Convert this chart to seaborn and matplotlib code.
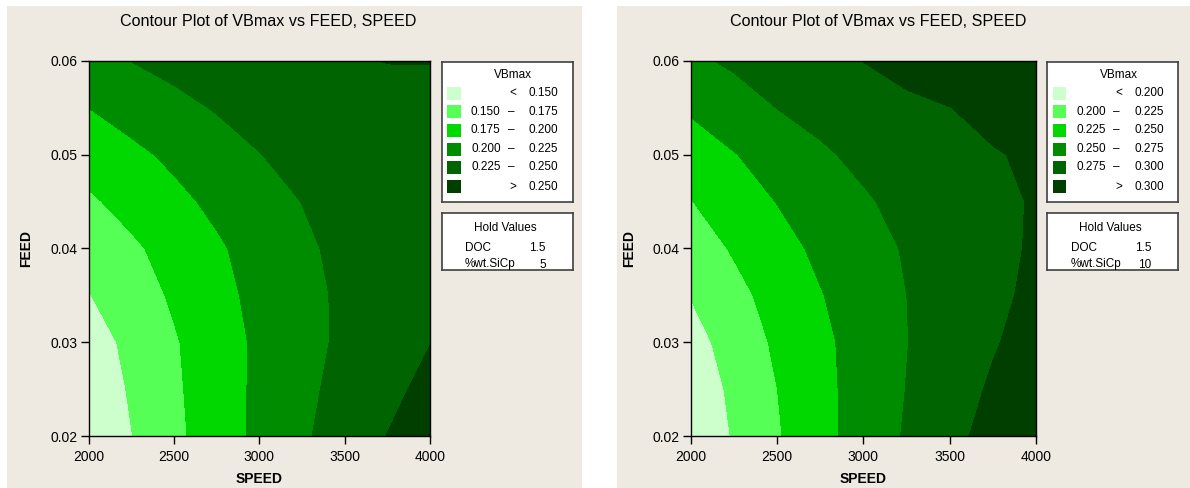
import numpy as np
import pandas as pd
import matplotlib
matplotlib.use("Agg")
import matplotlib.pyplot as plt
import seaborn as sns
from matplotlib.patches import Rectangle

# grid
speed = [2000, 2250, 2500, 2750, 3000, 3250, 3500, 3750, 4000]
feed = [0.020, 0.025, 0.030, 0.035, 0.040, 0.045, 0.050, 0.055, 0.060]

# VBmax, one row per FEED value (bottom to top), %wt.SiCp = 5
vb_sicp5 = [
    [0.1280, 0.1493, 0.1693, 0.1878, 0.2052, 0.2215, 0.2362, 0.2504, 0.2620],
    [0.1320, 0.1526, 0.1710, 0.1884, 0.2047, 0.2194, 0.2323, 0.2441, 0.2563],
    [0.1370, 0.1567, 0.1727, 0.1889, 0.2042, 0.2174, 0.2293, 0.2397, 0.2495],
    [0.1490, 0.1635, 0.1781, 0.1929, 0.2062, 0.2181, 0.2290, 0.2386, 0.2470],
    [0.1600, 0.1710, 0.1835, 0.1968, 0.2090, 0.2208, 0.2307, 0.2390, 0.2450],
    [0.1715, 0.1829, 0.1942, 0.2050, 0.2155, 0.2253, 0.2334, 0.2400, 0.2440],
    [0.1855, 0.1948, 0.2045, 0.2145, 0.2245, 0.2310, 0.2365, 0.2405, 0.2435],
    [0.2000, 0.2092, 0.2184, 0.2266, 0.2320, 0.2365, 0.2400, 0.2425, 0.2445],
    [0.2130, 0.2252, 0.2320, 0.2370, 0.2410, 0.2440, 0.2475, 0.2505, 0.2505],
]

# VBmax, %wt.SiCp = 10
vb_sicp10 = [
    [0.1798, 0.2020, 0.2228, 0.2422, 0.2603, 0.2773, 0.2931, 0.3082, 0.3217],
    [0.1838, 0.2050, 0.2249, 0.2431, 0.2598, 0.2754, 0.2893, 0.3029, 0.3148],
    [0.1905, 0.2105, 0.2288, 0.2446, 0.2596, 0.2744, 0.2862, 0.2980, 0.3092],
    [0.2010, 0.2180, 0.2339, 0.2488, 0.2620, 0.2749, 0.2850, 0.2950, 0.3048],
    [0.2126, 0.2274, 0.2416, 0.2547, 0.2661, 0.2769, 0.2855, 0.2941, 0.3026],
    [0.2243, 0.2377, 0.2506, 0.2616, 0.2727, 0.2806, 0.2877, 0.2948, 0.3018],
    [0.2387, 0.2490, 0.2605, 0.2721, 0.2796, 0.2858, 0.2919, 0.2980, 0.3043],
    [0.2529, 0.2642, 0.2753, 0.2813, 0.2874, 0.2934, 0.2995, 0.3081, 0.3150],
    [0.2705, 0.2787, 0.2858, 0.2929, 0.3003, 0.3104, 0.3200, 0.3280, 0.3350],
]

levels_sicp5 = [0.150, 0.175, 0.200, 0.225, 0.250]
levels_sicp10 = [0.200, 0.225, 0.250, 0.275, 0.300]
hold_doc = 1.5
hold_sicp = [5, 10]
greens = ["#ccffcc", "#55ff55", "#00d800", "#008c00", "#006400", "#003f00"]

W, H = 1190, 488
BEIGE = "#eeeae1"

sns.set_theme(style="ticks")
plt.rcParams["font.family"] = ["Liberation Sans", "DejaVu Sans"]
plt.rcParams["text.color"] = "black"
plt.rcParams["axes.labelcolor"] = "black"

fig = plt.figure(figsize=(W / 100, H / 100), dpi=100)
fig.patch.set_facecolor("white")


def fbox(x0, y0, x1, y1):
    # pixel box (top-left origin) -> figure fraction rect
    return [x0 / W, 1 - y1 / H, (x1 - x0) / W, (y1 - y0) / H]


def draw_panel(off, ax_x0, ax_x1, vb, levels, sicp):
    fig.add_artist(Rectangle((off / W, 0), 575 / W, 482 / H, transform=fig.transFigure,
                             facecolor=BEIGE, edgecolor="none", zorder=-5))
    ax = fig.add_axes(fbox(ax_x0, 61, ax_x1, 436))
    df = pd.DataFrame(vb, index=feed, columns=speed)
    bounds = [-1.0] + levels + [1.0]
    ax.contourf(df.columns.values, df.index.values, df.values, levels=bounds, colors=greens)
    ax.set_xlim(2000, 4000)
    ax.set_ylim(0.02, 0.06)
    ax.set_xticks([2000, 2500, 3000, 3500, 4000])
    ax.set_yticks([0.02, 0.03, 0.04, 0.05, 0.06])
    ax.set_yticklabels(["0.02", "0.03", "0.04", "0.05", "0.06"])
    ax.tick_params(direction="out", length=6, width=1, labelsize=10, colors="black", pad=2)
    ax.tick_params(axis="x", pad=4)
    for s in ax.spines.values():
        s.set_color("black")
        s.set_linewidth(1)
    ax.set_xlabel("SPEED", fontsize=10, fontweight="bold", labelpad=6)
    ax.set_ylabel("FEED", fontsize=10, fontweight="bold", labelpad=12)
    fig.text((off + 261) / W, 1 - 22 / H, "Contour Plot of VBmax vs FEED, SPEED",
             ha="center", va="center", fontsize=11.6)

    # legend box
    lx0 = ax_x1 + 11.7
    lg = fig.add_axes(fbox(lx0, 61.7, lx0 + 131, 201.7))
    lg.set_xlim(0, 131)
    lg.set_ylim(140, 0)
    lg.set_xticks([])
    lg.set_yticks([])
    lg.set_facecolor("white")
    for s in lg.spines.values():
        s.set_color("#404040")
        s.set_linewidth(1.2)
    fs = 8.5
    lg.text(71.7, 13.3, "VBmax", ha="center", va="center", fontsize=fs)
    rows = [31.7, 50, 68.3, 87.3, 105.7, 125]
    for i, y in enumerate(rows):
        lg.add_patch(Rectangle((5.7, y - 6.5), 13.3, 13, facecolor=greens[i], edgecolor="none"))
        if i == 0:
            lg.text(71, y, "<", ha="center", va="center", fontsize=fs)
            lg.text(116.7, y, f"{levels[0]:.3f}", ha="right", va="center", fontsize=fs)
        elif i == len(rows) - 1:
            lg.text(71, y, ">", ha="center", va="center", fontsize=fs)
            lg.text(116.7, y, f"{levels[-1]:.3f}", ha="right", va="center", fontsize=fs)
        else:
            lg.text(59, y, f"{levels[i - 1]:.3f}", ha="right", va="center", fontsize=fs)
            lg.text(69.3, y, "\u2013", ha="center", va="center", fontsize=fs)
            lg.text(116.7, y, f"{levels[i]:.3f}", ha="right", va="center", fontsize=fs)

    hv = fig.add_axes(fbox(lx0, 213.3, lx0 + 131, 270))
    hv.set_xlim(0, 131)
    hv.set_ylim(56.7, 0)
    hv.set_xticks([])
    hv.set_yticks([])
    hv.set_facecolor("white")
    for s in hv.spines.values():
        s.set_color("#404040")
        s.set_linewidth(1.2)
    hv.text(63.3, 15, "Hold Values", ha="center", va="center", fontsize=fs)
    hv.text(23.3, 35, "DOC", ha="left", va="center", fontsize=fs)
    hv.text(104.3, 35, f"{hold_doc}", ha="right", va="center", fontsize=fs)
    hv.text(23.3, 51.2, "%wt.SiCp", ha="left", va="center", fontsize=fs)
    hv.text(104.3, 51.2, f"{sicp}", ha="right", va="center", fontsize=fs)


draw_panel(7, 88.5, 430, vb_sicp5, levels_sicp5, hold_sicp[0])
draw_panel(617, 691, 1035.7, vb_sicp10, levels_sicp10, hold_sicp[1])

fig.savefig("out.png", dpi=100, facecolor=fig.get_facecolor())
